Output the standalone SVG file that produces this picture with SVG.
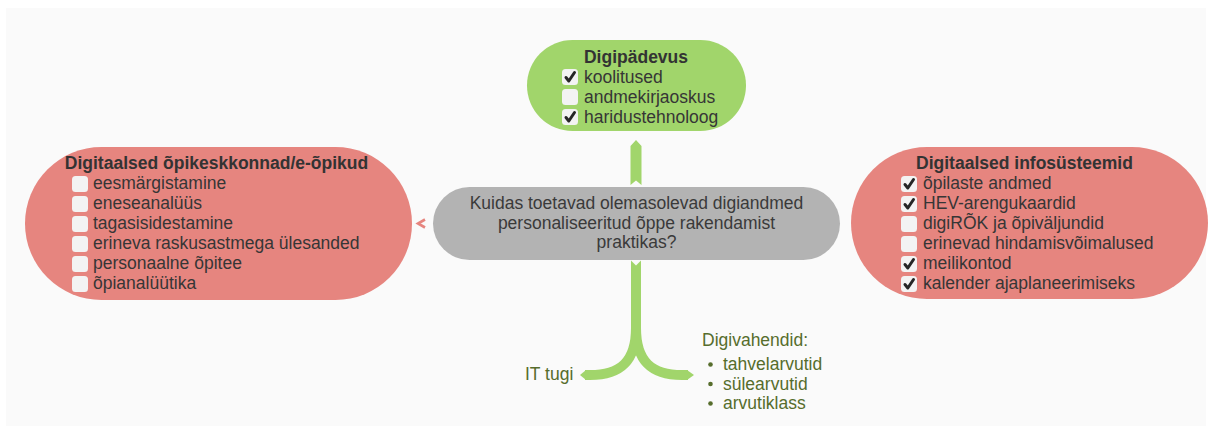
<svg xmlns="http://www.w3.org/2000/svg" width="1212" height="432" viewBox="0 0 1212 432">
<defs>
<style>
text{font-family:"Liberation Sans",Arial,sans-serif;font-size:17.5px;fill:#363636}
.t{font-weight:bold;text-anchor:middle;fill:#333}
.c{text-anchor:middle;fill:#3a3a3a}
.lbl{fill:#566d2c}
.box{fill:#f3f3f3}
.chk{fill:none;stroke:#262626;stroke-width:3;stroke-linecap:round;stroke-linejoin:round}
.green{fill:#a1d56b}
.red{fill:#e6857f}
.gray{fill:#b3b3b3}
.conn{fill:none;stroke:#a1d56b;stroke-width:10}
</style>
<g id="cb">
<rect class="box" x="0" y="0" width="16" height="16" rx="3.5"/>
</g>
<g id="ck">
<rect class="box" x="0" y="0" width="16" height="16" rx="3.5"/>
<path class="chk" d="M4,8.5 L6.8,12 L12.5,3.5"/>
</g>
</defs>
<rect x="0" y="0" width="1212" height="432" fill="#ffffff"/>
<rect x="6" y="8" width="1200" height="418" fill="#fafafa"/>

<g id="connectors">
<polygon class="green" points="630.5,185 636,180.5 641.5,185 641.5,146 636,140 630.5,146"/>
<path class="conn" d="M636,260 L636,332"/>
<path class="conn" d="M636,328 C636,362 620,375 590,375 L585,375"/>
<path class="conn" d="M636,328 C636,362 652,375 682,375 L688,375"/>
<polygon class="green" points="586,370 580,375 586,380"/>
<polygon class="green" points="687,370 694,375 687,380"/>
<polygon fill="#fafafa" points="630,259.5 642,259.5 636,265.5"/>
<path d="M425,219.5 L418,223.5 L425,227.5" fill="none" stroke="#e6857f" stroke-width="2.6"/>
</g>

<g id="center">
<rect class="gray" x="433" y="187" width="407" height="73" rx="36.5"/>
<text class="c" x="636.5" y="209">Kuidas toetavad olemasolevad digiandmed</text>
<text class="c" x="636.5" y="228.5">personaliseeritud õppe rakendamist</text>
<text class="c" x="636.5" y="248">praktikas?</text>
</g>

<g id="digipadevus">
<rect class="green" x="527" y="40" width="219" height="91" rx="45.5"/>
<text class="t" x="636" y="62.5">Digipädevus</text>
<use href="#ck" x="562" y="69"/>
<use href="#cb" x="562" y="89"/>
<use href="#ck" x="562" y="109"/>
<text x="584" y="82.5">koolitused</text>
<text x="584" y="102.5">andmekirjaoskus</text>
<text x="584" y="122.5">haridustehnoloog</text>
</g>

<g id="opikeskkonnad">
<rect class="red" x="25" y="147" width="387" height="153" rx="76.5"/>
<text class="t" x="216.5" y="169">Digitaalsed õpikeskkonnad/e-õpikud</text>
<use href="#cb" x="72" y="176"/>
<use href="#cb" x="72" y="196"/>
<use href="#cb" x="72" y="216"/>
<use href="#cb" x="72" y="236"/>
<use href="#cb" x="72" y="256"/>
<use href="#cb" x="72" y="276"/>
<text x="93" y="189">eesmärgistamine</text>
<text x="93" y="209">eneseanalüüs</text>
<text x="93" y="229">tagasisidestamine</text>
<text x="93" y="249">erineva raskusastmega ülesanded</text>
<text x="93" y="269">personaalne õpitee</text>
<text x="93" y="289">õpianalüütika</text>
</g>

<g id="infosusteemid">
<rect class="red" x="851" y="147" width="357" height="152" rx="76"/>
<text class="t" x="1024.5" y="169">Digitaalsed infosüsteemid</text>
<use href="#ck" x="901" y="176"/>
<use href="#ck" x="901" y="196"/>
<use href="#cb" x="901" y="216"/>
<use href="#cb" x="901" y="236"/>
<use href="#ck" x="901" y="256"/>
<use href="#ck" x="901" y="276"/>
<text x="923" y="189">õpilaste andmed</text>
<text x="923" y="209">HEV-arengukaardid</text>
<text x="923" y="229">digiRÕK ja õpiväljundid</text>
<text x="923" y="249">erinevad hindamisvõimalused</text>
<text x="923" y="269">meilikontod</text>
<text x="923" y="289">kalender ajaplaneerimiseks</text>
</g>

<g id="ittugi">
<text class="lbl" x="525" y="380">IT tugi</text>
</g>

<g id="digivahendid">
<text class="lbl" x="702" y="346">Digivahendid:</text>
<circle cx="710.5" cy="364.5" r="2.3" fill="#566d2c"/>
<circle cx="710.5" cy="384" r="2.3" fill="#566d2c"/>
<circle cx="710.5" cy="403.5" r="2.3" fill="#566d2c"/>
<text class="lbl" x="723" y="370">tahvelarvutid</text>
<text class="lbl" x="723" y="389.5">sülearvutid</text>
<text class="lbl" x="723" y="409">arvutiklass</text>
</g>
</svg>
